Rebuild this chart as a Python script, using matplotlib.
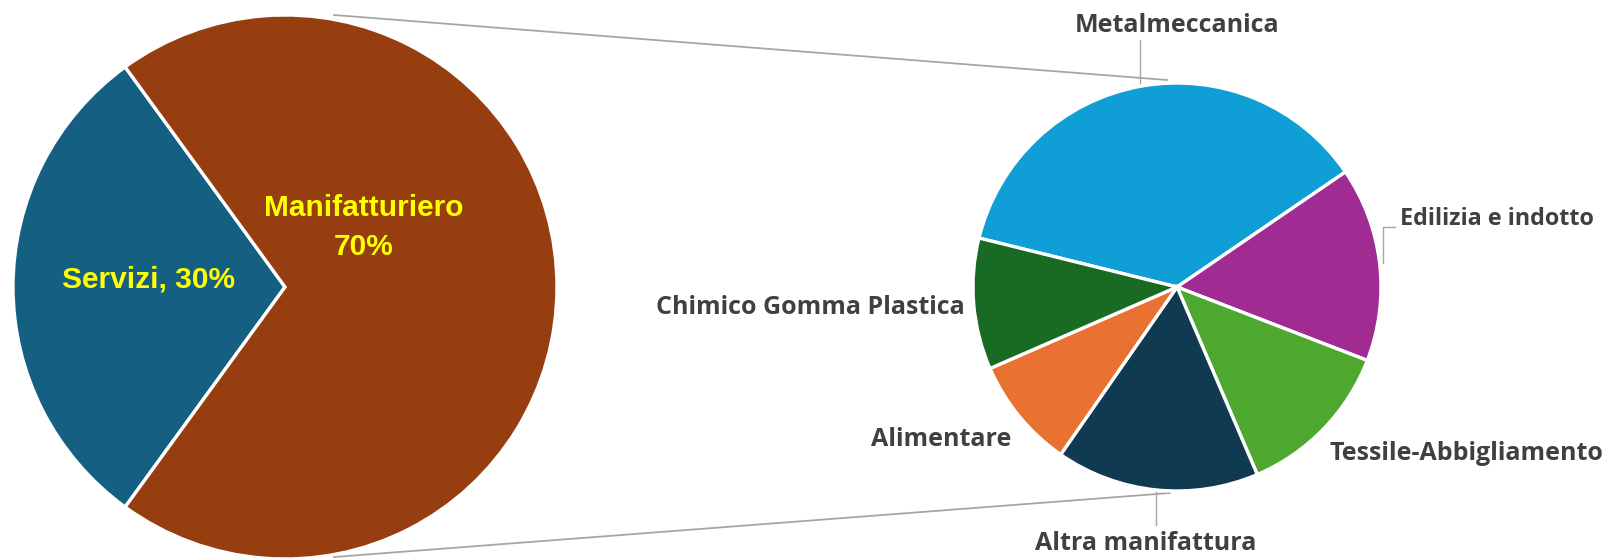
"""Pie-of-pie: Servizi vs Manifatturiero, with the manufacturing share broken down by sector."""

import matplotlib

matplotlib.use("Agg")

import matplotlib.pyplot as plt  # noqa: E402

# primary pie
main_labels = ["Servizi", "Manifatturiero"]
main_values = [30, 70]
main_colors = ["#156082", "#973E10"]

# secondary pie (breakdown of Manifatturiero, % of the secondary pie), clockwise from the top-left
sub_labels = [
    "Metalmeccanica",
    "Edilizia e indotto",
    "Tessile-Abbigliamento",
    "Altra manifattura",
    "Alimentare",
    "Chimico Gomma Plastica",
]
sub_values = [36.6, 15.4, 12.7, 16.1, 8.8, 10.4]
sub_colors = ["#0F9ED5", "#A02B93", "#4EA72E", "#0F3A4F", "#E97132", "#196B24"]

W, H = 1605, 559
TEXT = "#404040"
LINE = "#A6A6A6"
FONT = "Open Sans"
MAIN_FONT = "Liberation Sans"


def Y(py):
    """Convert a top-down pixel row into data y (origin at the bottom)."""
    return H - py


fig = plt.figure(figsize=(W / 100, H / 100), dpi=100)
ax = fig.add_axes([0, 0, 1, 1])

wp = dict(edgecolor="white", linewidth=2.4)
ax.pie(main_values, colors=main_colors, startangle=126, counterclock=True,
       center=(285, Y(287)), radius=272, wedgeprops=wp, frame=True)
ax.pie(sub_values, colors=sub_colors, startangle=166.1, counterclock=False,
       center=(1177, Y(287)), radius=204, wedgeprops=wp, frame=True)

# connector lines between the two pies
ax.plot([334, 1167], [Y(15), Y(80)], color=LINE, lw=1.3, zorder=0)
ax.plot([334, 1170], [Y(557), Y(493)], color=LINE, lw=1.3, zorder=0)

# primary labels
big = dict(color="#FFFF00", fontsize=21.5, fontweight="bold", family=MAIN_FONT,
           ha="center", va="center")
ax.text(149, Y(280), f"{main_labels[0]}, {main_values[0]}%", **big)
ax.text(364, Y(208), main_labels[1], **big)
ax.text(364, Y(247), f"{main_values[1]}%", **big)

# secondary labels
lab = dict(color=TEXT, fontweight="bold", family=FONT, va="center")
ax.text(1177, Y(25), sub_labels[0], ha="center", fontsize=18, **lab)
ax.text(1400, Y(219), sub_labels[1], ha="left", fontsize=16.8, **lab)
ax.text(1330, Y(453), sub_labels[2], ha="left", fontsize=18, **lab)
ax.text(1146, Y(543), sub_labels[3], ha="center", fontsize=18, **lab)
ax.text(1011, Y(440), sub_labels[4], ha="right", fontsize=18, **lab)
ax.text(965, Y(307), sub_labels[5], ha="right", fontsize=18, **lab)

# leader lines
ax.plot([1140, 1140], [Y(40), Y(83)], color=LINE, lw=1)
ax.plot([1395, 1383, 1383], [Y(227), Y(227), Y(263)], color=LINE, lw=1)
ax.plot([1156, 1156], [Y(492), Y(525)], color=LINE, lw=1)

ax.set_xlim(0, W)
ax.set_ylim(0, H)
ax.set_aspect("auto")
ax.axis("off")

fig.savefig("out.png", dpi=100)
